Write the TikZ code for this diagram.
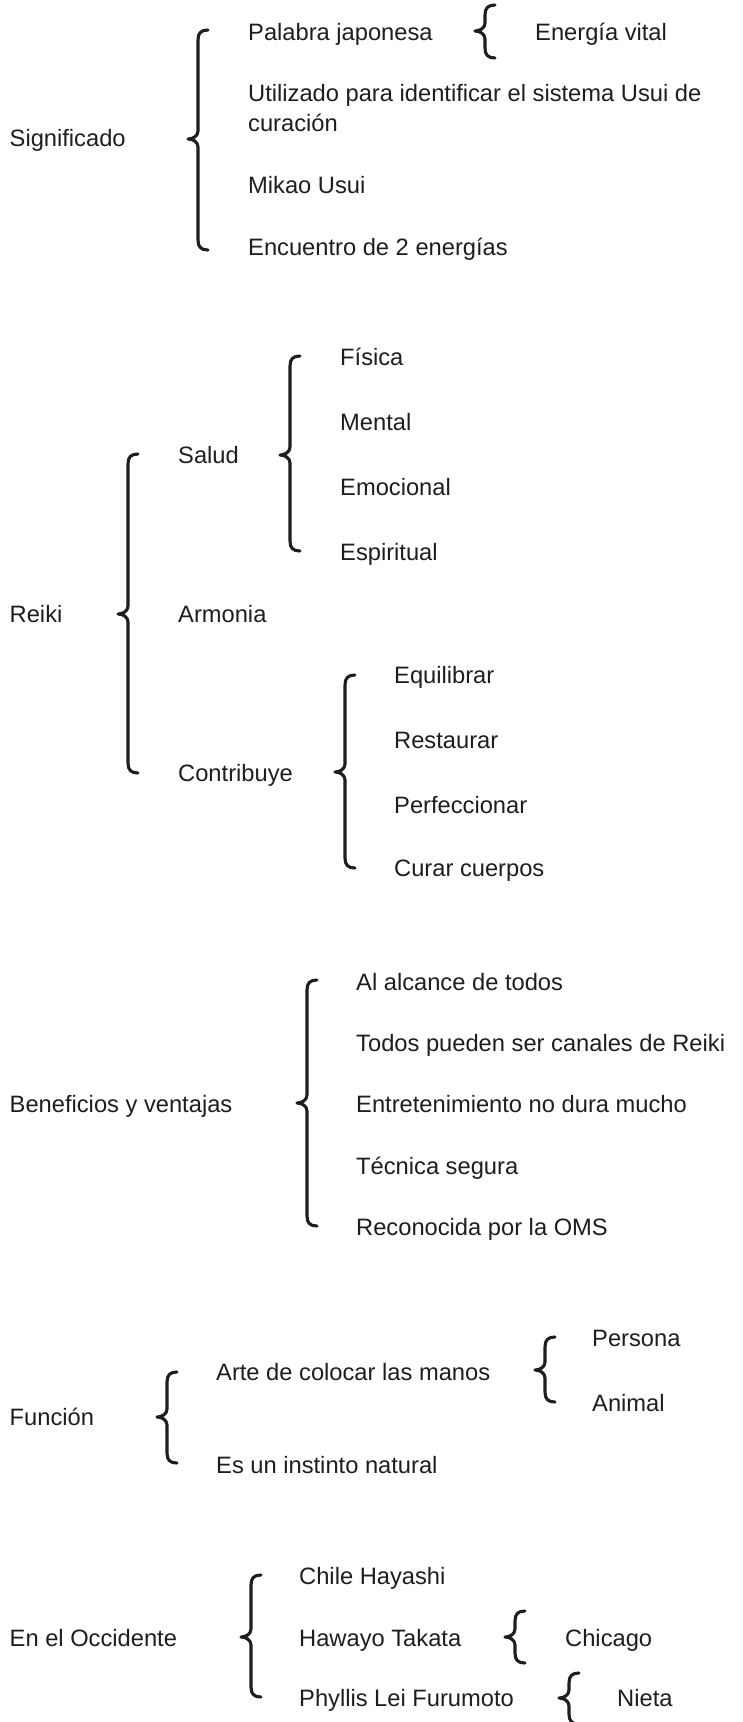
\documentclass[tikz,border=0pt]{standalone}
\usepackage{fontspec}
\setmainfont{Liberation Sans}
\definecolor{txt}{HTML}{1E1E1E}
\newcommand\mybrace[4]{% xline, top, bottom, tip
  \draw[bracestyle] (#1+10,#2) .. controls (#1+3,#2) and (#1,#2+3) .. (#1,#2+10)
    -- (#1,#4-8) .. controls (#1,#4-3) and (#1-5,#4) .. (#1-10,#4)
    .. controls (#1-5,#4) and (#1,#4+3) .. (#1,#4+8)
    -- (#1,#3-10) .. controls (#1,#3-3) and (#1+3,#3) .. (#1+10,#3);}
\tikzset{
  lbl/.style={anchor=base west, inner sep=0pt, text=txt, font=\fontsize{23.7}{28}\selectfont},
  bracestyle/.style={draw=txt, line width=3.1pt, line cap=round, line join=round}
}
\begin{document}
\begin{tikzpicture}[x=1pt,y=-1pt]
\fill[white] (0,0) rectangle (742,1722);
\useasboundingbox (0,0) rectangle (742,1722);
\def\bo{8.5}
% Section 1
\node[lbl] (sig) at (9.5,138+\bo) {Significado};
\mybrace{198}{30}{250}{139}
\node[lbl] (pj) at (248,32+\bo) {Palabra japonesa};
\mybrace{485}{5}{58}{31}
\node[lbl] (ev) at (535,32+\bo) {Energía vital};
\node[lbl] (ut1) at (248,93+\bo) {Utilizado para identificar el sistema Usui de};
\node[lbl] (ut2) at (248,123+\bo) {curación};
\node[lbl] (mk) at (248,185+\bo) {Mikao Usui};
\node[lbl] (en) at (248,247+\bo) {Encuentro de 2 energías};
% Section 2
\node[lbl] (reiki) at (9.5,614+\bo) {Reiki};
\mybrace{128}{454}{773}{614}
\node[lbl] (salud) at (178,455+\bo) {Salud};
\node[lbl] (armonia) at (178,614+\bo) {Armonia};
\node[lbl] (contrib) at (178,773+\bo) {Contribuye};
\mybrace{290}{356}{551}{455}
\node[lbl] (fisica) at (340,357+\bo) {Física};
\node[lbl] (mental) at (340,422+\bo) {Mental};
\node[lbl] (emoc) at (340,487+\bo) {Emocional};
\node[lbl] (espir) at (340,552+\bo) {Espiritual};
\mybrace{345}{675}{868}{772}
\node[lbl] (equil) at (394,675+\bo) {Equilibrar};
\node[lbl] (resta) at (394,740+\bo) {Restaurar};
\node[lbl] (perfe) at (394,805+\bo) {Perfeccionar};
\node[lbl] (curar) at (394,868+\bo) {Curar cuerpos};
% Section 3
\node[lbl] (benef) at (9.5,1104+\bo) {Beneficios y ventajas};
\mybrace{307}{980}{1226}{1103}
\node[lbl] (b1) at (356,982+\bo) {Al alcance de todos};
\node[lbl] (b2) at (356,1043+\bo) {Todos pueden ser canales de Reiki};
\node[lbl] (b3) at (356,1104+\bo) {Entretenimiento no dura mucho};
\node[lbl] (b4) at (356,1166+\bo) {Técnica segura};
\node[lbl] (b5) at (356,1227+\bo) {Reconocida por la OMS};
% Section 4
\node[lbl] (func) at (9.5,1417+\bo) {Función};
\mybrace{167}{1372}{1463}{1417}
\node[lbl] (arte) at (216,1372+\bo) {Arte de colocar las manos};
\node[lbl] (inst) at (216,1465+\bo) {Es un instinto natural};
\mybrace{545}{1337}{1402}{1370}
\node[lbl] (pers) at (592,1338+\bo) {Persona};
\node[lbl] (anim) at (592,1403+\bo) {Animal};
% Section 5
\node[lbl] (occ) at (9.5,1638+\bo) {En el Occidente};
\mybrace{251}{1575}{1697}{1637}
\node[lbl] (chile) at (299,1576+\bo) {Chile Hayashi};
\node[lbl] (hawayo) at (299,1638+\bo) {Hawayo Takata};
\node[lbl] (phyl) at (299,1698+\bo) {Phyllis Lei Furumoto};
\mybrace{515}{1611}{1663}{1637}
\node[lbl] (chic) at (565,1638+\bo) {Chicago};
\mybrace{569}{1673}{1724}{1698}
\node[lbl] (nieta) at (617,1698+\bo) {Nieta};
\end{tikzpicture}
\end{document}
